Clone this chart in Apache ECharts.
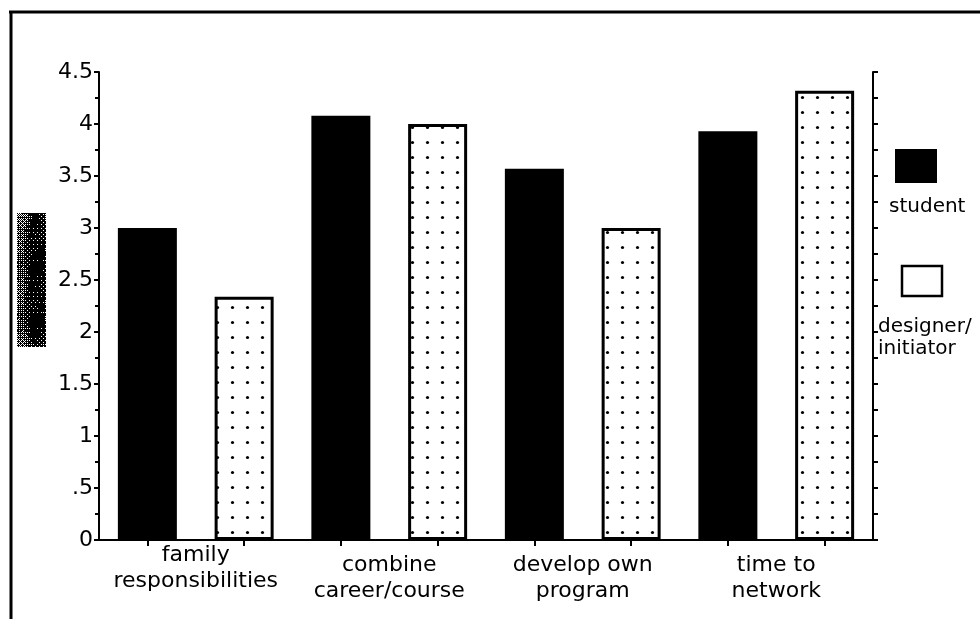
<!DOCTYPE html>
<html>
<head>
<meta charset="utf-8">
<script src="https://cdn.jsdelivr.net/npm/echarts@6.0.0/dist/echarts.min.js"></script>
<style>
  html, body { margin: 0; padding: 0; background: #fff; }
  #chart { width: 980px; height: 619px; }
</style>
</head>
<body>
<div id="chart"></div>
<script>
// Categories along the bottom axis
const categories = ['family\nresponsibilities', 'combine\ncareer/course', 'develop own\nprogram', 'time to\nnetwork'];
// Series names (legend)
const seriesNames = ['student', 'designer/\ninitiator'];
// Mean ratings per category
const studentValues = [3.0, 4.08, 3.57, 3.93];
const designerValues = [2.34, 4.0, 3.0, 4.32];
// Value-axis tick labels, from 0 upward in steps of 0.5
const yTickLabels = ['0', '.5', '1', '1.5', '2', '2.5', '3', '3.5', '4', '4.5'];

const FONT = 'DejaVu Sans';

// One tick slot per bar, used for the tick marks on the top and bottom axes
const barSlots = [];
categories.forEach(function (c) {
  seriesNames.forEach(function (s) { barSlots.push(c + '|' + s); });
});

// Small dotted fill for the hollow bars
function dotPattern() {
  const c = document.createElement('canvas');
  c.width = 15; c.height = 15;
  const g = c.getContext('2d');
  g.fillStyle = '#fff';
  g.fillRect(0, 0, 15, 15);
  g.fillStyle = '#000';
  g.beginPath();
  g.arc(7.5, 7.5, 1.6, 0, Math.PI * 2);
  g.fill();
  return c;
}

// Ordered-dither grey block (the unreadable axis caption)
function ditherBlock(w, h) {
  const c = document.createElement('canvas');
  c.width = w; c.height = h;
  const g = c.getContext('2d');
  const img = g.createImageData(w, h);
  const bayer = [0, 8, 2, 10, 12, 4, 14, 6, 3, 11, 1, 9, 15, 7, 13, 5];
  for (let y = 0; y < h; y++) {
    for (let x = 0; x < w; x++) {
      // darker toward the right-middle strip
      const dx = (x - w * 0.65) / (w * 0.45);
      const dy = Math.max(0, Math.abs(y - h * 0.5) - h * 0.38) / (h * 0.12);
      let dark = 0.72 + 0.3 * Math.max(0, 1 - dx * dx) - 0.15 * dy;
      dark = Math.min(0.97, Math.max(0.55, dark));
      // break up the regular grid a little with a fixed interference term
      const wobble = 0.12 * Math.sin(x * 2.3 + y * 1.7) * Math.cos(x * 0.9 - y * 2.9);
      const t = (bayer[(y % 4) * 4 + (x % 4)] + 0.5) / 16 + wobble;
      const v = dark > t ? 0 : 255;
      const i = (y * w + x) * 4;
      img.data[i] = v; img.data[i + 1] = v; img.data[i + 2] = v; img.data[i + 3] = 255;
    }
  }
  g.putImageData(img, 0, 0);
  return c;
}

const labelPadTop = [0, 10, 10, 10];

const chart = echarts.init(document.getElementById('chart'), null, { renderer: 'canvas' });

const lineStyle = { color: '#000', width: 2 };

const option = {
  backgroundColor: '#fff',
  animation: false,
  grid: { left: 99, right: 107, top: 72, bottom: 79, containLabel: false },
  xAxis: [
    {
      type: 'category',
      data: categories.map(function (c, i) {
        return { value: c, textStyle: { padding: [labelPadTop[i], 0, 0, 0] } };
      }),
      position: 'bottom',
      axisLine: { show: false },
      axisTick: { show: false },
      axisLabel: {
        interval: 0, margin: 2, color: '#000', fontSize: 22, lineHeight: 26,
        fontFamily: FONT, align: 'center'
      }
    },
    {
      type: 'category',
      data: barSlots,
      position: 'top',
      axisLine: { show: true, lineStyle: lineStyle },
      axisTick: { show: true, alignWithLabel: true, interval: 0, length: 6, lineStyle: lineStyle },
      axisLabel: { show: false, interval: 0 }
    },
    {
      type: 'category',
      data: barSlots,
      position: 'bottom',
      axisLine: { show: true, lineStyle: lineStyle },
      axisTick: { show: true, alignWithLabel: true, interval: 0, length: 6, lineStyle: lineStyle },
      axisLabel: { show: false, interval: 0 }
    }
  ],
  yAxis: [
    {
      type: 'value', min: 0, max: 4.5, interval: 0.5, position: 'left',
      axisLine: { show: true, lineStyle: lineStyle },
      axisTick: { show: true, length: 5, lineStyle: lineStyle },
      minorTick: { show: true, splitNumber: 2, length: 4, lineStyle: { color: '#000', width: 2 } },
      splitLine: { show: false },
      axisLabel: {
        margin: 6, color: '#000', fontSize: 22, fontFamily: FONT,
        formatter: function (v) { return yTickLabels[Math.round(v / 0.5)]; }
      }
    },
    {
      type: 'value', min: 0, max: 4.5, interval: 0.5, position: 'right',
      axisLine: { show: true, lineStyle: lineStyle },
      axisTick: { show: true, length: 5, lineStyle: lineStyle },
      minorTick: { show: true, splitNumber: 2, length: 5, lineStyle: { color: '#000', width: 2 } },
      splitLine: { show: false },
      axisLabel: { show: false }
    }
  ],
  series: [
    {
      name: seriesNames[0], type: 'bar', xAxisIndex: 0, yAxisIndex: 0,
      data: studentValues, barWidth: 59, barGap: '64%',
      itemStyle: { color: '#000' }
    },
    {
      name: seriesNames[1], type: 'bar', xAxisIndex: 0, yAxisIndex: 0,
      data: designerValues, barWidth: 59, barGap: '64%',
      itemStyle: { color: { image: dotPattern(), repeat: 'repeat' }, borderColor: '#000', borderWidth: 3 }
    }
  ],
  graphic: [
    // page frame
    { type: 'line', shape: { x1: 9, y1: 12, x2: 980, y2: 12 }, style: { stroke: '#000', lineWidth: 3 } },
    { type: 'line', shape: { x1: 11, y1: 11, x2: 11, y2: 619 }, style: { stroke: '#000', lineWidth: 3 } },
    // dithered axis caption block
    { type: 'image', left: 17, top: 213, style: { image: ditherBlock(29, 134), x: 0, y: 0, width: 29, height: 134 } },
    // legend
    { type: 'rect', shape: { x: 895, y: 149, width: 42, height: 34 }, style: { fill: '#000' } },
    { type: 'text', style: { x: 889, y: 207, text: seriesNames[0], fill: '#000', font: '20px "' + FONT + '"', verticalAlign: 'middle' } },
    { type: 'rect', shape: { x: 902, y: 266, width: 40, height: 30 }, style: { fill: '#fff', stroke: '#000', lineWidth: 2.5 } },
    { type: 'text', style: { x: 878, y: 316, text: seriesNames[1], fill: '#000', font: '20px "' + FONT + '"', lineHeight: 22, verticalAlign: 'top' } }
  ]
};

chart.setOption(option);
</script>
</body>
</html>
